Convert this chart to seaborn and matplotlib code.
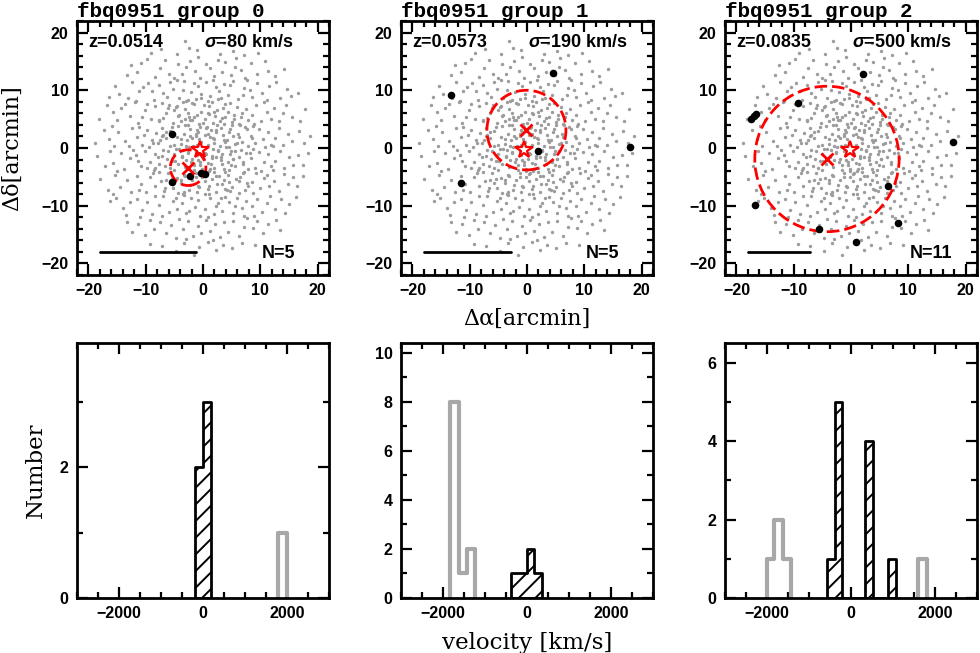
import numpy as np
import pandas as pd
import matplotlib
matplotlib.use('Agg')
import matplotlib.pyplot as plt
from matplotlib.patches import Circle
from matplotlib.ticker import MultipleLocator
import seaborn as sns

# ─── DATA ─────────────────────────────────────────────────────────────────────
GROUP_TITLES = ['fbq0951 group 0', 'fbq0951 group 1', 'fbq0951 group 2']
GROUP_Z = ['0.0514', '0.0573', '0.0835']
GROUP_SIGMA = [80, 190, 500]
GROUP_N = [5, 5, 11]

# quasar position and group centre [arcmin]
QSO_RA = [-0.5, -0.6, -0.2]
QSO_DEC = [-0.3, -0.3, -0.4]
CENTER_RA = [-2.6, -0.1, -4.2]
CENTER_DEC = [-3.4, 3.1, -1.9]
CIRCLE_RADIUS = [3.1, 6.9, 12.6]
SCALEBAR_LEN = [16.8, 15.2, 10.9]

# group members [arcmin]
MEMBERS_RA = [
    [-5.5, -5.4, -2.3, -0.3, 0.35],
    [-13.3, 4.6, 17.9, 1.9, -11.6],
    [-17.5, -17.0, -16.6, -9.3, 2.1, 17.8, 6.4, 8.2, 0.8, -5.6, -16.7],
]
MEMBERS_DEC = [
    [2.4, -5.9, -4.9, -4.4, -4.5],
    [9.1, 13.0, 0.2, -0.5, -6.1],
    [5.0, 5.5, 5.9, 7.8, 12.9, 1.0, -6.5, -13.0, -16.3, -14.0, -9.8],
]

# galaxies in the field [arcmin] (positions)
FIELD_POINTS = [
    # dec 16..20
    (-9.1, 16.4), (-7.3, 17.1), (-4.6, 16.3), (-3.2, 18.5), (-1.1, 16.9), (-2.4, 17.3),
    (0.8, 17.9), (2.9, 16.2), (3.6, 18.2), (5.2, 16.8), (7.1, 16.1), (9.6, 16.5),
    # dec 12..16
    (-13.2, 12.6), (-12.5, 14.4), (-11.6, 13.1), (-9.7, 15.5), (-8.4, 12.3), (-10.9, 14.8),
    (-7.5, 13.9), (-5.1, 12.2), (-6.6, 15.2), (-4.3, 14.6), (-6.0, 12.9),
    (-3.7, 12.8), (-2.2, 15.1), (-1.4, 13.4), (-0.5, 12.1), (-3.0, 14.0), (-0.9, 15.7),
    (0.6, 14.5), (1.9, 12.4), (2.6, 15.3), (3.4, 13.2), (1.2, 13.8), (3.8, 14.9),
    (4.9, 12.7), (5.8, 15.6), (6.7, 13.5), (7.4, 12.2), (5.5, 14.1),
    (8.3, 14.7), (9.5, 12.9), (10.8, 15.0), (11.3, 13.3), (12.6, 12.4), (14.1, 13.6),
    # dec 8..12
    (-16.5, 8.9), (-15.3, 10.7), (-13.1, 8.6), (-12.4, 11.5), (-14.6, 9.4),
    (-11.2, 9.8), (-9.6, 11.3), (-8.5, 8.4), (-10.4, 10.6), (-11.7, 8.2), (-8.9, 9.9),
    (-7.6, 11.0), (-6.3, 8.8), (-5.2, 10.3), (-4.5, 11.7), (-7.0, 9.5), (-5.8, 11.5), (-4.2, 8.6),
    (-3.5, 10.1), (-2.7, 8.3), (-1.6, 11.2), (-0.4, 9.4), (-2.1, 9.7), (-0.8, 10.8), (-3.3, 11.6),
    (-1.2, 8.5),
    (0.5, 11.4), (1.3, 9.0), (2.2, 10.5), (3.1, 8.7), (3.7, 11.1), (0.9, 8.2), (2.8, 9.8), (1.7, 11.8),
    (4.4, 9.2), (5.3, 11.6), (6.1, 8.5), (7.2, 10.4), (4.8, 10.9), (6.9, 9.1), (7.7, 11.7),
    (8.6, 8.8), (9.4, 11.2), (10.3, 9.6), (11.5, 10.8), (8.2, 10.1), (11.1, 8.3),
    (12.8, 11.4), (13.5, 8.7), (14.7, 10.2), (15.4, 9.0), (16.6, 9.6),
    # dec 4..8
    (-18.2, 5.1), (-16.8, 7.4),
    (-15.1, 4.8), (-14.3, 6.9), (-12.7, 5.6), (-13.6, 7.7), (-15.7, 6.2),
    (-11.4, 4.4), (-10.2, 6.6), (-9.1, 5.0), (-8.4, 7.3), (-11.8, 7.9), (-9.7, 7.6), (-10.6, 5.4),
    (-7.7, 4.9), (-6.5, 6.1), (-5.3, 4.3), (-4.6, 7.2), (-7.2, 7.8), (-5.9, 7.5), (-4.2, 5.8),
    (-6.9, 5.2), (-5.0, 6.6),
    (-3.8, 4.6), (-3.1, 6.8), (-2.4, 5.3), (-1.5, 7.6), (-0.7, 4.2), (-0.3, 6.2), (-2.0, 4.8),
    (-3.5, 7.9), (-1.1, 5.7), (-2.7, 6.1),
    (0.4, 5.1), (1.1, 7.3), (1.8, 4.4), (2.5, 6.5), (3.3, 5.2), (3.9, 7.7), (0.8, 6.0),
    (2.1, 5.5), (3.6, 4.1), (1.5, 7.9),
    (4.3, 6.2), (5.1, 4.5), (5.9, 7.1), (6.6, 5.4), (7.5, 6.8), (4.7, 7.8), (6.2, 4.2),
    (7.8, 4.9), (5.4, 5.8),
    (8.5, 5.7), (9.3, 7.4), (10.1, 4.6), (11.2, 6.3), (8.9, 4.1), (10.7, 7.9), (11.8, 5.0),
    (12.4, 6.9), (13.3, 4.7), (14.5, 7.5), (15.6, 5.4), (13.9, 6.1), (16.9, 4.6), (17.8, 6.8),
    # dec 0..4
    (-18.9, 0.9), (-17.3, 3.1), (-16.4, 1.6),
    (-15.5, 0.4), (-14.8, 2.7), (-13.6, 1.2), (-12.4, 3.5), (-15.9, 3.8), (-12.9, 0.3),
    (-11.5, 1.9), (-10.6, 0.6), (-9.8, 3.2), (-8.9, 1.4), (-8.2, 2.6), (-11.1, 3.7), (-9.4, 0.2),
    (-10.3, 2.3),
    (-7.8, 0.8), (-7.1, 3.4), (-6.4, 1.7), (-5.7, 2.9), (-5.0, 0.5), (-4.3, 3.8), (-4.6, 1.9),
    (-6.9, 2.2), (-7.5, 1.3), (-5.4, 3.6),
    (-3.9, 0.7), (-3.4, 2.5), (-2.8, 1.3), (-2.2, 3.3), (-1.7, 0.4), (-1.2, 2.0), (-0.6, 3.7),
    (-0.3, 1.1), (-3.1, 3.9), (-2.5, 0.2), (-1.9, 1.8), (-0.9, 2.8),
    (0.3, 2.3), (0.8, 0.6), (1.4, 3.1), (1.9, 1.5), (2.5, 3.9), (2.9, 0.3), (3.5, 2.2),
    (3.8, 1.0), (0.6, 3.5), (1.2, 1.9), (2.3, 2.7), (3.2, 3.4),
    (4.2, 1.4), (4.8, 3.3), (5.5, 0.7), (6.1, 2.4), (6.8, 1.1), (7.4, 3.6), (7.9, 0.4),
    (5.2, 2.0), (6.5, 3.9), (4.6, 0.2),
    (8.4, 2.1), (9.0, 0.8), (9.7, 3.3), (10.5, 1.5), (11.3, 2.8), (11.8, 0.5), (8.7, 3.8),
    (10.9, 0.1),
    (12.5, 1.7), (13.2, 3.4), (14.0, 0.6), (14.9, 2.5), (15.6, 1.2), (12.2, 0.3),
    (16.7, 2.9), (17.6, 0.8), (18.6, 2.0),
    # dec -4..0
    (-18.5, -1.4), (-17.1, -3.2), (-16.3, -0.5),
    (-15.7, -2.6), (-14.4, -0.9), (-13.8, -3.7), (-12.7, -1.8), (-15.1, -3.9), (-12.2, -0.3),
    (-11.7, -1.2), (-10.9, -3.1), (-10.1, -0.6), (-9.3, -2.4), (-8.6, -3.8), (-8.3, -1.0),
    (-11.3, -2.2), (-9.7, -3.5),
    (-7.6, -2.8), (-7.0, -0.4), (-6.3, -1.9), (-5.8, -3.5), (-5.1, -1.1), (-4.4, -2.7),
    (-4.8, -0.2), (-6.7, -3.1), (-7.9, -1.6), (-5.5, -2.2),
    (-3.7, -1.5), (-3.2, -3.3), (-2.6, -0.7), (-2.1, -2.4), (-1.6, -3.8), (-1.0, -1.2),
    (-0.5, -2.9), (-3.5, -0.3), (-2.9, -2.0), (-1.3, -0.6), (-0.2, -3.6), (-0.8, -2.0),
    (0.4, -0.9), (0.9, -2.6), (1.5, -1.4), (2.0, -3.4), (2.6, -0.5), (3.1, -2.1), (3.7, -3.7),
    (3.4, -1.0), (1.1, -3.9), (0.2, -1.9), (2.3, -1.6), (1.8, -0.2),
    (4.3, -2.4), (4.9, -0.6), (5.6, -3.2), (6.2, -1.5), (6.9, -2.8), (7.5, -0.9), (7.8, -3.6),
    (5.3, -1.9), (4.6, -3.8), (6.6, -0.3),
    (8.3, -1.7), (9.1, -3.4), (9.8, -0.7), (10.6, -2.5), (11.4, -1.1), (11.9, -3.2), (8.8, -0.2),
    (10.2, -3.9),
    (12.6, -2.2), (13.4, -0.5), (14.2, -3.5), (15.0, -1.6), (15.7, -2.9), (12.3, -3.8),
    (16.5, -1.2), (17.4, -3.0), (18.3, -0.8),
    # dec -8..-4
    (-17.9, -5.3), (-16.6, -7.2),
    (-15.4, -4.6), (-14.5, -6.8), (-13.2, -5.5), (-12.6, -7.6), (-15.8, -7.9),
    (-11.6, -4.9), (-10.8, -6.3), (-9.9, -7.7), (-9.2, -5.1), (-8.4, -6.6), (-11.1, -7.3),
    (-8.7, -4.3),
    (-7.4, -5.8), (-6.8, -7.5), (-6.1, -4.4), (-5.3, -6.9), (-4.6, -5.2), (-4.3, -7.8),
    (-7.7, -4.2), (-5.7, -6.0), (-6.5, -5.6),
    (-3.8, -6.1), (-3.2, -4.8), (-2.5, -7.3), (-1.9, -5.6), (-1.3, -4.3), (-0.7, -6.8),
    (-0.2, -5.0), (-3.5, -7.9), (-2.2, -6.4), (-1.1, -7.7),
    (0.5, -4.4), (1.0, -6.5), (1.6, -5.3), (2.2, -7.6), (2.8, -4.9), (3.3, -6.2), (3.9, -7.1),
    (0.3, -7.9), (1.9, -4.1), (3.6, -5.5),
    (4.4, -4.6), (5.0, -6.7), (5.7, -5.4), (6.3, -7.8), (7.0, -4.4), (7.6, -6.1), (4.8, -7.5),
    (6.4, -5.0), (7.3, -7.2),
    (8.5, -5.9), (9.2, -4.3), (9.9, -7.0), (10.7, -5.2), (11.5, -6.6), (8.8, -7.8), (11.2, -4.6),
    (12.4, -5.7), (13.3, -7.4), (14.1, -4.5), (14.9, -6.3), (15.7, -5.0), (16.4, -6.6), (17.5, -4.8),
    # dec -12..-8
    (-16.3, -9.1), (-15.2, -8.6), (-14.0, -10.4), (-12.8, -9.3), (-13.5, -11.6),
    (-11.5, -8.9), (-10.6, -10.8), (-9.7, -9.4), (-8.9, -11.5), (-8.3, -8.4), (-11.0, -11.9),
    (-7.6, -9.8), (-6.9, -8.3), (-6.0, -11.1), (-5.2, -9.2), (-4.5, -10.6), (-7.2, -11.8),
    (-4.8, -8.7),
    (-3.6, -9.5), (-2.9, -11.3), (-2.1, -8.6), (-1.4, -10.2), (-0.6, -11.7), (-3.3, -8.2),
    (-0.9, -9.0), (-2.4, -10.9),
    (0.4, -10.6), (1.2, -8.7), (1.9, -11.4), (2.7, -9.6), (3.4, -10.9), (0.8, -11.9),
    (3.8, -8.5), (2.2, -10.1),
    (4.5, -9.3), (5.2, -11.2), (6.0, -8.6), (6.8, -10.4), (7.5, -9.1), (5.6, -10.0), (7.2, -11.7),
    (8.6, -10.1), (9.4, -8.8), (10.3, -11.0), (11.2, -9.5), (8.9, -11.8), (11.7, -8.3),
    (12.5, -10.6), (13.6, -8.9), (14.4, -11.3), (15.1, -9.7), (16.2, -8.5),
    # dec -16..-12
    (-13.3, -12.8), (-12.4, -14.5), (-11.4, -13.2), (-10.1, -15.1), (-9.3, -12.5), (-8.6, -14.0),
    (-7.5, -12.9), (-6.4, -14.7), (-5.6, -13.4), (-4.7, -15.6), (-4.2, -12.3),
    (-3.5, -14.1), (-2.6, -12.6), (-1.8, -15.3), (-0.9, -13.5), (-0.3, -14.8), (-3.0, -15.8),
    (0.6, -12.4), (1.3, -14.3), (2.1, -13.1), (2.9, -15.5), (3.6, -12.9), (1.7, -15.9),
    (4.4, -14.6), (5.3, -12.7), (6.2, -15.2), (7.1, -13.6), (7.7, -12.2),
    (8.7, -13.9), (9.5, -12.6), (10.4, -14.8), (11.3, -13.1), (12.7, -12.5), (13.4, -14.2),
    # dec -20..-16
    (-9.2, -16.6), (-7.1, -16.9), (-4.8, -17.8), (-3.4, -16.4), (-1.6, -18.6), (-0.7, -17.2),
    (0.9, -16.3), (2.3, -17.7), (3.5, -16.8), (5.0, -17.4), (6.8, -16.5), (9.0, -16.8),
    # extra galaxies in the denser core
    (-1.3, 2.4), (0.7, 3.6), (2.0, 0.9), (-2.6, -0.8), (1.4, -2.7), (3.1, -1.5), (-0.2, -3.9),
    (-3.8, 1.6), (4.5, 2.8), (-4.9, -2.3), (2.9, 4.7), (-1.6, 5.3), (0.3, -5.7), (5.6, -0.5),
    (-5.8, 0.4), (3.8, -4.2), (-3.3, -4.6), (1.9, 6.3), (-2.7, 3.9), (6.3, 1.9), (-6.5, 2.8),
    (4.9, -3.0), (-0.9, -6.6), (2.4, -6.2), (-4.4, 5.6), (6.9, -2.4), (-7.1, -1.3), (0.1, 7.4),
    (3.5, 6.9), (-2.0, 7.8), (5.4, 5.1), (-5.5, -5.4), (7.6, 3.3), (-7.7, 4.6), (1.1, -8.0),
    (4.2, -7.3), (-3.4, -7.6), (8.2, -0.9), (-8.3, -3.4), (6.2, -5.8), (-6.1, 6.9), (2.7, 8.5),
    (-1.1, 0.6), (0.6, -1.0), (1.7, 1.8), (-1.9, -1.9), (2.6, -0.4), (-2.9, 0.3), (0.9, 2.5),
    (-0.6, -2.4), (3.6, 1.3), (-3.6, -1.3), (1.3, -3.6), (-1.0, 3.2), (4.1, 0.2), (-4.2, -0.1),
    (0.0, 4.4), (2.2, -4.9), (-2.3, 4.8), (5.0, 3.9), (-5.1, -3.8), (3.9, 5.4), (-3.8, -5.5),
    (6.0, 0.8), (-6.1, -0.6), (5.3, -1.9), (1.0, 5.9), (-1.3, -5.1), (7.1, -4.1), (-7.2, 2.0),
    (4.6, -5.9), (-4.7, 7.1), (0.8, -7.1), (-0.4, 8.6), (8.6, 1.7), (-8.7, 0.9), (6.8, 6.1),
    (-6.6, -6.9), (3.1, -8.6), (-3.0, 8.2), (7.9, -6.6), (2.3, 3.1), (-2.2, 2.1), (1.6, -1.7),
    (-0.7, 1.6), (4.8, -1.1), (-1.5, -3.0), (3.3, -2.7), (-3.1, 5.0), (0.4, -4.5),
]

# velocity histograms [km/s]: bin edges and counts
MEMBER_EDGES = [
    [-200, -10, 180],
    [-370, -190, -10, 170, 350],
    [-570, -388, -206, -24, 158, 340, 522, 704, 886, 1068],
]
MEMBER_COUNTS = [
    [2, 3],
    [1, 1, 2, 1],
    [1, 5, 0, 0, 0, 4, 0, 0, 1],
]
OTHER_EDGES = [
    [1780, 1990],
    [-1830, -1620, -1420, -1240],
    [-2010, -1830, -1620, -1440, 1590, 1800],
]
OTHER_COUNTS = [
    [1],
    [8, 1, 2],
    [1, 2, 1, 0, 1],
]
HIST_YMAX = [3.9, 10.4, 6.5]

# ─── STYLE ────────────────────────────────────────────────────────────────────
sns.set_theme(style='ticks')
plt.rcParams['font.family'] = ['Liberation Sans', 'DejaVu Sans']
plt.rcParams['font.weight'] = 'bold'
plt.rcParams['text.color'] = 'black'
plt.rcParams['axes.labelcolor'] = 'black'
plt.rcParams['xtick.color'] = 'black'
plt.rcParams['ytick.color'] = 'black'
plt.rcParams['mathtext.fontset'] = 'custom'
plt.rcParams['mathtext.it'] = 'Liberation Sans:italic:bold'
plt.rcParams['mathtext.rm'] = 'Liberation Sans:bold'
plt.rcParams['hatch.linewidth'] = 1.4
plt.rcParams['axes.linewidth'] = 2

SERIF = ['DejaVu Serif']
MONO = ['Liberation Mono', 'DejaVu Sans Mono']
FIELD_GREY = '#9c9c9c'
HIST_GREY = '#a8a8a8'


def style_axes(ax, major, minor):
    ax.xaxis.set_major_locator(MultipleLocator(major[0]))
    ax.xaxis.set_minor_locator(MultipleLocator(minor[0]))
    ax.yaxis.set_major_locator(MultipleLocator(major[1]))
    ax.yaxis.set_minor_locator(MultipleLocator(minor[1]))
    ax.tick_params(which='both', direction='in', top=True, right=True,
                   width=1.6, labelsize=11.5, colors='black', pad=6)
    ax.tick_params(which='major', length=8)
    ax.tick_params(which='minor', length=4)
    for lbl in ax.get_xticklabels() + ax.get_yticklabels():
        lbl.set_fontweight('bold')
    for sp in ax.spines.values():
        sp.set_linewidth(2)
        sp.set_color('black')


def step_hist(ax, edges, counts, **kw):
    edges = [float(e) for e in edges]
    centers = [0.5 * (a + b) for a, b in zip(edges[:-1], edges[1:])]
    df = pd.DataFrame({'v': centers, 'n': counts})
    sns.histplot(data=df, x='v', weights='n', bins=edges, element='step', ax=ax, **kw)


def outline_hist(ax, edges, counts, **kw):
    # draw each run of non-empty bins as its own outline, closed down to zero
    start = None
    for k in range(len(counts) + 1):
        filled = k < len(counts) and counts[k] > 0
        if filled and start is None:
            start = k
        elif not filled and start is not None:
            e = edges[start:k + 1]
            step_hist(ax, [e[0] - 1] + e + [e[-1] + 1], [0] + counts[start:k] + [0], **kw)
            start = None


fig = plt.figure(figsize=(9.8, 6.53), dpi=100)
W, H = 980, 653
lefts = [77, 401, 725]

field = np.array(FIELD_POINTS)

for i in range(3):
    # ── sky map ──
    ax = fig.add_axes([lefts[i] / W, 1 - 275 / H, 252 / W, 254 / H])
    sns.scatterplot(x=field[:, 0], y=field[:, 1], ax=ax, color=FIELD_GREY,
                    s=6, linewidth=0, zorder=1)
    ax.add_patch(Circle((CENTER_RA[i], CENTER_DEC[i]), CIRCLE_RADIUS[i], fill=False,
                        ec='red', lw=2, ls=(0, (4.5, 1.8)), zorder=3))
    sns.scatterplot(x=MEMBERS_RA[i], y=MEMBERS_DEC[i], ax=ax, color='black',
                    s=30, linewidth=0, zorder=4)
    ax.plot(QSO_RA[i], QSO_DEC[i], marker='*', ms=13, mfc='none', mec='red',
            mew=1.6, zorder=5)
    ax.plot(CENTER_RA[i], CENTER_DEC[i], marker='x', ms=9, mec='red', mew=2, zorder=5)
    ax.plot([-18, -18 + SCALEBAR_LEN[i]], [-18, -18], color='black', lw=2, zorder=4)

    ax.text(-20.1, 18.3, f'z={GROUP_Z[i]}', fontsize=13, fontweight='bold',
            va='center', ha='left')
    ax.text(0.2, 18.3, rf'$\sigma$={GROUP_SIGMA[i]} km/s', fontsize=13,
            fontweight='bold', va='center', ha='left')
    ax.text(10.3, -18.3, f'N={GROUP_N[i]}', fontsize=13, fontweight='bold',
            va='center', ha='left')

    ax.set_xlim(-22, 22)
    ax.set_ylim(-22, 22)
    style_axes(ax, (10, 10), (2, 2))
    ax.set_xlabel('')
    ax.set_ylabel('')
    ax.set_title(GROUP_TITLES[i], loc='left', fontsize=15, fontweight='bold',
                 family=MONO, pad=3)

    if i == 0:
        ax.set_ylabel('Δδ[arcmin]', fontsize=16, family=SERIF, fontweight='normal')
        ax.yaxis.set_label_coords(-0.215, 0.5)
    if i == 1:
        ax.set_xlabel('Δα[arcmin]', fontsize=16, family=SERIF, fontweight='normal')
        ax.xaxis.set_label_coords(0.5, -0.13)

    # ── velocity histogram ──
    axh = fig.add_axes([lefts[i] / W, 1 - 598 / H, 252 / W, 255 / H])
    outline_hist(axh, OTHER_EDGES[i], OTHER_COUNTS[i], fill=False,
                 color=HIST_GREY, linewidth=3)
    step_hist(axh, MEMBER_EDGES[i], MEMBER_COUNTS[i], fill=True, facecolor='white',
              edgecolor='black', hatch='//', linewidth=2, alpha=1)
    axh.set_xlim(-3000, 3000)
    axh.set_ylim(0, HIST_YMAX[i])
    style_axes(axh, (2000, 2), (500, 1))
    axh.set_xlabel('')
    axh.set_ylabel('')
    if i == 0:
        axh.set_ylabel('Number', fontsize=16.5, family=SERIF, fontweight='normal')
        axh.yaxis.set_label_coords(-0.12, 0.5)
    if i == 1:
        axh.set_xlabel('velocity [km/s]', fontsize=16.5, family=SERIF, fontweight='normal')
        axh.xaxis.set_label_coords(0.5, -0.135)

fig.savefig('out.png', dpi=100)
